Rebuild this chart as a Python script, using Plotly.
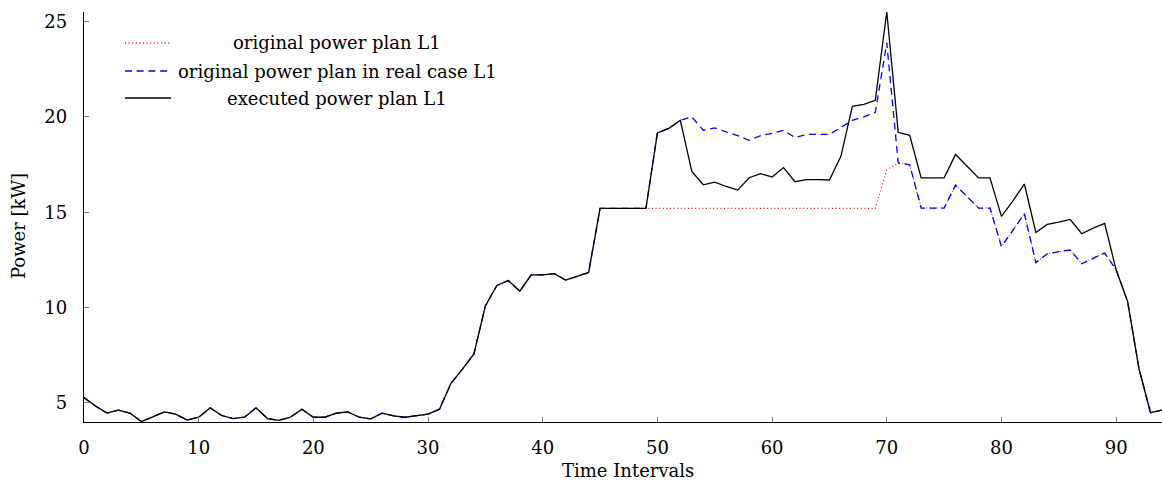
import plotly.graph_objects as go

# Time interval index
intervals = list(range(95))

# Original power plan for load L1 [kW]
plan_original = [
    5.28, 4.84, 4.47, 4.62, 4.47, 4.02, 4.27, 4.53, 4.41, 4.10,
    4.25, 4.74, 4.34, 4.18, 4.25, 4.74, 4.18, 4.09, 4.25, 4.67,
    4.25, 4.25, 4.46, 4.53, 4.25, 4.16, 4.46, 4.32, 4.25, 4.32,
    4.41, 4.67, 6.03, 6.77, 7.57, 10.09, 11.16, 11.42, 10.86, 11.72,
    11.72, 11.78, 11.44, 11.64, 11.84, 15.20, 15.20, 15.20, 15.20, 15.20,
    15.20, 15.20, 15.20, 15.20, 15.20, 15.20, 15.20, 15.20, 15.20, 15.20,
    15.20, 15.20, 15.20, 15.20, 15.20, 15.20, 15.20, 15.20, 15.20, 15.20,
    17.23, 17.58, 17.49, 15.22, 15.22, 15.22, 16.42, 15.80, 15.22, 15.22,
    13.20, 14.05, 14.92, 12.36, 12.82, 12.93, 13.02, 12.30, 12.60, 12.86,
    11.98, 10.32, 6.78, 4.49, 4.62,
]

# Original power plan evaluated in the real case [kW]
plan_real_case = [
    5.28, 4.84, 4.47, 4.62, 4.47, 4.02, 4.27, 4.53, 4.41, 4.10,
    4.25, 4.74, 4.34, 4.18, 4.25, 4.74, 4.18, 4.09, 4.25, 4.67,
    4.25, 4.25, 4.46, 4.53, 4.25, 4.16, 4.46, 4.32, 4.25, 4.32,
    4.41, 4.67, 6.03, 6.77, 7.57, 10.09, 11.16, 11.42, 10.86, 11.72,
    11.72, 11.78, 11.44, 11.64, 11.84, 15.20, 15.20, 15.20, 15.20, 15.20,
    19.16, 19.40, 19.82, 20.00, 19.30, 19.42, 19.21, 19.02, 18.77, 19.02,
    19.14, 19.30, 18.91, 19.08, 19.08, 19.08, 19.45, 19.82, 20.00, 20.24,
    23.88, 17.58, 17.49, 15.22, 15.22, 15.22, 16.42, 15.80, 15.22, 15.22,
    13.20, 14.05, 14.92, 12.36, 12.82, 12.93, 13.02, 12.30, 12.60, 12.86,
    11.98, 10.32, 6.78, 4.49, 4.62,
]

# Executed power plan [kW]
plan_executed = [
    5.28, 4.84, 4.47, 4.62, 4.47, 4.02, 4.27, 4.53, 4.41, 4.10,
    4.25, 4.74, 4.34, 4.18, 4.25, 4.74, 4.18, 4.09, 4.25, 4.67,
    4.25, 4.25, 4.46, 4.53, 4.25, 4.16, 4.46, 4.32, 4.25, 4.32,
    4.41, 4.67, 6.03, 6.77, 7.57, 10.09, 11.16, 11.42, 10.86, 11.72,
    11.72, 11.78, 11.44, 11.64, 11.84, 15.20, 15.20, 15.20, 15.20, 15.20,
    19.16, 19.40, 19.82, 17.14, 16.44, 16.58, 16.35, 16.16, 16.81, 17.02,
    16.85, 17.34, 16.60, 16.71, 16.71, 16.69, 17.93, 20.55, 20.66, 20.87,
    25.50, 19.19, 19.03, 16.80, 16.80, 16.80, 18.03, 17.40, 16.80, 16.80,
    14.78, 15.60, 16.48, 13.94, 14.36, 14.48, 14.62, 13.87, 14.17, 14.41,
    11.98, 10.32, 6.78, 4.49, 4.62,
]

series_names = [
    "original power plan L1",
    "original power plan in real case L1",
    "executed power plan L1",
]

x_ticks = [0, 10, 20, 30, 40, 50, 60, 70, 80, 90]
y_ticks = [5, 10, 15, 20, 25]

FONT = "DejaVu Serif"
FS = 18

styles = [
    dict(color="#ff0000", width=1.1, dash="1px,2.6px"),
    dict(color="#0000ff", width=1.3, dash="7px,4.7px"),
    dict(color="#000000", width=1.3, dash="solid"),
]

fig = go.Figure()
for name, ys, st in zip(series_names, [plan_original, plan_real_case, plan_executed], styles):
    fig.add_trace(go.Scatter(
        x=intervals, y=ys, mode="lines", name=name,
        line=dict(color=st["color"], width=st["width"], dash=st["dash"]),
        showlegend=False,
    ))

# Hand-built legend with centred entry text
legend_rows = [0.9244, 0.856, 0.790]
for name, st, yr in zip(series_names, styles, legend_rows):
    fig.add_shape(
        type="line", xref="paper", yref="paper",
        x0=0.038, x1=0.0807, y0=yr, y1=yr,
        line=dict(color=st["color"], width=st["width"] + 0.2, dash=st["dash"]),
    )
    fig.add_annotation(
        xref="paper", yref="paper", x=0.2347, y=yr,
        text=name, showarrow=False, xanchor="center", yanchor="middle",
        font=dict(family=FONT, size=FS, color="black"),
    )

# Axis titles
fig.add_annotation(
    xref="paper", yref="paper", x=0.5046, y=-0.1195,
    text="Time Intervals", showarrow=False, xanchor="center", yanchor="middle",
    borderpad=0,
    font=dict(family=FONT, size=FS, color="black"),
)
fig.add_annotation(
    xref="paper", yref="paper", x=-0.0612, y=0.478,
    text="Power [kW]", showarrow=False, textangle=-90,
    xanchor="center", yanchor="middle",
    font=dict(family=FONT, size=FS, color="black"),
)

fig.update_layout(
    width=1162, height=483,
    margin=dict(l=84, r=0, t=12, b=61),
    paper_bgcolor="white", plot_bgcolor="white",
    font=dict(family=FONT, size=FS, color="black"),
    xaxis=dict(
        range=[0, 94], tickvals=x_ticks, ticks="inside", ticklen=5,
        tickcolor="#777", tickwidth=1, showline=True, linecolor="black",
        linewidth=1.3, showgrid=False, zeroline=False, ticklabelstandoff=9,
        tickfont=dict(family=FONT, size=FS, color="black"),
    ),
    yaxis=dict(
        range=[4.0, 25.5], tickvals=y_ticks, ticks="inside", ticklen=5,
        tickcolor="#777", tickwidth=1, showline=True, linecolor="black",
        linewidth=1.3, showgrid=False, zeroline=False, ticklabelstandoff=12,
        tickfont=dict(family=FONT, size=FS, color="black"),
    ),
)

fig.write_html("out.html")
